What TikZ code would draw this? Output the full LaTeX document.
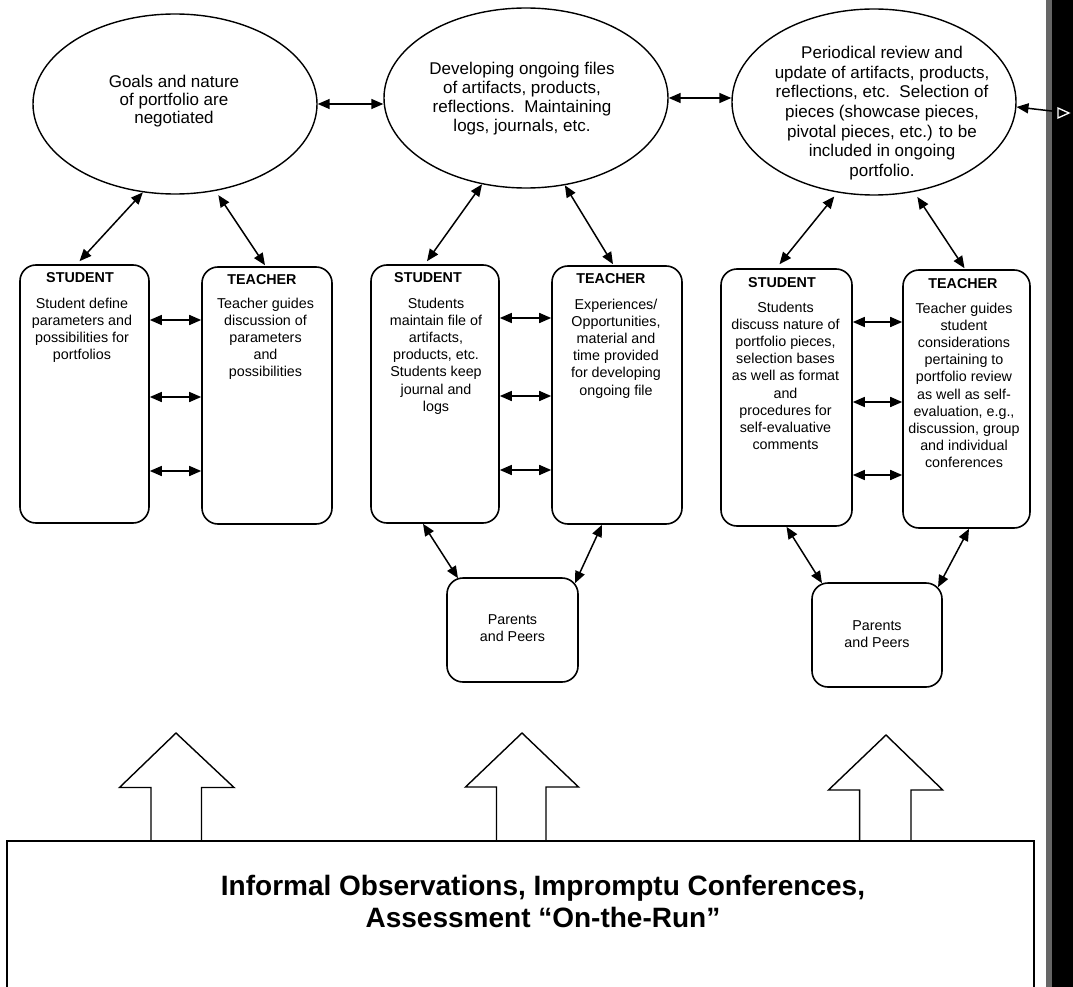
\documentclass[tikz,border=0pt]{standalone}
\usepackage{fontspec}
\setmainfont{Liberation Sans}
\usetikzlibrary{shapes.geometric,arrows.meta}

\begin{document}
\begin{tikzpicture}[x=1pt,y=-1pt,
  ell/.style={ellipse,draw,line width=1.4pt,inner sep=0pt},
  rbox/.style={rectangle,rounded corners=16pt,draw,line width=1.6pt,inner sep=0pt},
  etxt/.style={align=center,inner sep=0pt,anchor=north},
  btxt/.style={align=center,inner sep=0pt,anchor=north,font=\fontsize{14.3}{17.2}\selectfont},
  head/.style={inner sep=0pt,font=\fontsize{14.3}{17}\selectfont\bfseries},
  dbl/.style={line width=1.5pt,{Triangle[length=12pt,width=10pt]}-{Triangle[length=12pt,width=10pt]}},
  blk/.style={line width=1.4pt,line join=miter}
]
\useasboundingbox (0,0) rectangle (1073,987);
\clip (0,0) rectangle (1073,987);

% scanned edge
\fill[black] (1052,0) rectangle (1073,987);
\fill[black!60] (1046,0) rectangle (1052,987);

% ellipses
\node[ell,minimum width=284pt,minimum height=180pt] (e1) at (175,104) {};
\node[ell,minimum width=284pt,minimum height=180pt] (e2) at (526,98) {};
\node[ell,minimum width=284pt,minimum height=186pt] (e3) at (874,102) {};

\node[etxt,font=\fontsize{17}{17.7}\selectfont] (e1t) at (174,75.4) {Goals and nature\\of portfolio are\\negotiated};
\node[etxt,font=\fontsize{17}{19}\selectfont] (e2t) at (522,61.8) {Developing ongoing files\\of artifacts, products,\\reflections.\ \ Maintaining\\logs, journals, etc.};
\node[etxt,font=\fontsize{17}{19.7}\selectfont] (e3t) at (882,45.8) {Periodical review and\\update of artifacts, products,\\reflections, etc.\ \ Selection of\\pieces (showcase pieces,\\pivotal pieces, etc.) to be\\included in ongoing\\portfolio.};

\draw[dbl] (e1.east) -- (e1.east -| e2.west);
\draw[dbl] (e2.east) -- (e2.east -| e3.west);
\coordinate (rx) at (1069,113);
\draw[line width=1.5pt,{Triangle[length=12pt,width=10pt]}-] (e3.-2) -- (rx);
\draw[white,line width=1.3pt,line join=miter] ([shift={(-11,-5)}]rx) -- (rx) -- ([shift={(-11,5)}]rx) -- cycle;

% student / teacher boxes
\node[rbox,minimum width=129pt,minimum height=258pt] (s1) at (84.5,394) {};
\node[rbox,minimum width=130pt,minimum height=257pt] (t1) at (267,395.5) {};
\node[rbox,minimum width=128pt,minimum height=258pt] (s2) at (435,394) {};
\node[rbox,minimum width=130pt,minimum height=258pt] (t2) at (617,395) {};
\node[rbox,minimum width=131pt,minimum height=257pt] (s3) at (786.5,397.5) {};
\node[rbox,minimum width=127pt,minimum height=258pt] (t3) at (966.5,399) {};

\node[head] (s1h) at (80,278) {STUDENT};
\node[head] (t1h) at (262,280) {TEACHER};
\node[head] (s2h) at (428,278) {STUDENT};
\node[head] (t2h) at (611,279) {TEACHER};
\node[head] (s3h) at (782,283) {STUDENT};
\node[head] (t3h) at (963,284) {TEACHER};

\node[btxt] (s1t) at (82,297.5) {Student define\\parameters and\\possibilities for\\portfolios};
\node[btxt] (t1t) at (265.5,297.5) {Teacher guides\\discussion of\\parameters\\and\\possibilities};
\node[btxt] (s2t) at (436,297.5) {Students\\maintain file of\\artifacts,\\products, etc.\\Students keep\\journal and\\logs};
\node[btxt] (t2t) at (616,298.5) {Experiences/\\Opportunities,\\material and\\time provided\\for developing\\ongoing file};
\node[btxt] (s3t) at (785.5,301.5) {Students\\discuss nature of\\portfolio pieces,\\selection bases\\as well as format\\and\\procedures for\\self-evaluative\\comments};
\node[btxt] (t3t) at (964,302.5) {Teacher guides\\student\\considerations\\pertaining to\\portfolio review\\as well as self-\\evaluation, e.g.,\\discussion, group\\and individual\\conferences};

% ellipse to boxes
\draw[dbl] (e1.-110) -- ([xshift=-5pt,yshift=3pt]s1.north);
\draw[dbl,shorten <=5pt] (e1.-65) -- ([xshift=-2pt,yshift=1pt]t1.north);
\draw[dbl] (e2.-117) -- ([xshift=-8pt,yshift=3pt]s2.north);
\draw[dbl] (e2.-66) -- ([xshift=-4pt,yshift=1pt]t2.north);
\draw[dbl,shorten <=5pt] (e3.-112) -- ([xshift=-7pt,yshift=4pt]s3.north);
\draw[dbl,shorten <=6pt] (e3.-66) -- ([xshift=-2pt,yshift=1pt]t3.north);

% horizontal arrows between student and teacher
\coordinate (h11) at ([yshift=74pt]s1.east);
\coordinate (h12) at ([yshift=-3pt]s1.east);
\coordinate (h13) at ([yshift=-77pt]s1.east);
\coordinate (h21) at ([yshift=76pt]s2.east);
\coordinate (h22) at ([yshift=-2pt]s2.east);
\coordinate (h23) at ([yshift=-76pt]s2.east);
\coordinate (h31) at ([yshift=75.5pt]s3.east);
\coordinate (h32) at ([yshift=-4.5pt]s3.east);
\coordinate (h33) at ([yshift=-77.5pt]s3.east);
\draw[dbl] (h11) -- (h11 -| t1.west);
\draw[dbl] (h12) -- (h12 -| t1.west);
\draw[dbl] (h13) -- (h13 -| t1.west);
\draw[dbl] (h21) -- (h21 -| t2.west);
\draw[dbl] (h22) -- (h22 -| t2.west);
\draw[dbl] (h23) -- (h23 -| t2.west);
\draw[dbl] (h31) -- (h31 -| t3.west);
\draw[dbl] (h32) -- (h32 -| t3.west);
\draw[dbl] (h33) -- (h33 -| t3.west);

% parents and peers
\node[rbox,minimum width=131pt,minimum height=104pt] (pp1) at (512.5,630) {};
\node[rbox,minimum width=130pt,minimum height=104pt] (pp2) at (877,635) {};
\node[align=center,inner sep=0pt,font=\fontsize{14.3}{17.2}\selectfont] (pp1t) at (512.5,628) {Parents\\and Peers};
\node[align=center,inner sep=0pt,font=\fontsize{14.3}{17.2}\selectfont] (pp2t) at (877,634) {Parents\\and Peers};

\draw[dbl] ([xshift=-12pt]s2.south) -- ([xshift=-54.5pt,yshift=-1pt]pp1.north);
\draw[dbl] ([xshift=-15pt]t2.south) -- ([xshift=62.5pt,yshift=-6pt]pp1.north);
\draw[dbl] (s3.south) -- ([xshift=-55pt,yshift=-1pt]pp2.north);
\draw[dbl] ([xshift=2.5pt]t3.south) -- ([xshift=61pt,yshift=-5pt]pp2.north);

% bottom box
\node[draw,line width=1.4pt,minimum width=1027pt,minimum height=300pt,inner sep=0pt] (obs) at (520.5,991) {};
\node[align=center,inner sep=0pt,font=\fontsize{28}{32}\selectfont\bfseries] (obst) at (543,901) {Informal Observations, Impromptu Conferences,\\Assessment ``On-the-Run''};

% hollow block arrows
\draw[blk] (151,841) -- (151,787.5) -- (119.5,787.5) -- (176,733) -- (234,787.5) -- (201.5,787.5) -- (201.5,841);
\draw[blk] (496.5,841) -- (496.5,787) -- (465.5,787) -- (522,733) -- (578.5,787) -- (546,787) -- (546,841);
\draw[blk] (859.6,841) -- (859.6,790) -- (828.5,790) -- (886,735) -- (942.7,790) -- (911,790) -- (911,841);
\end{tikzpicture}
\end{document}
